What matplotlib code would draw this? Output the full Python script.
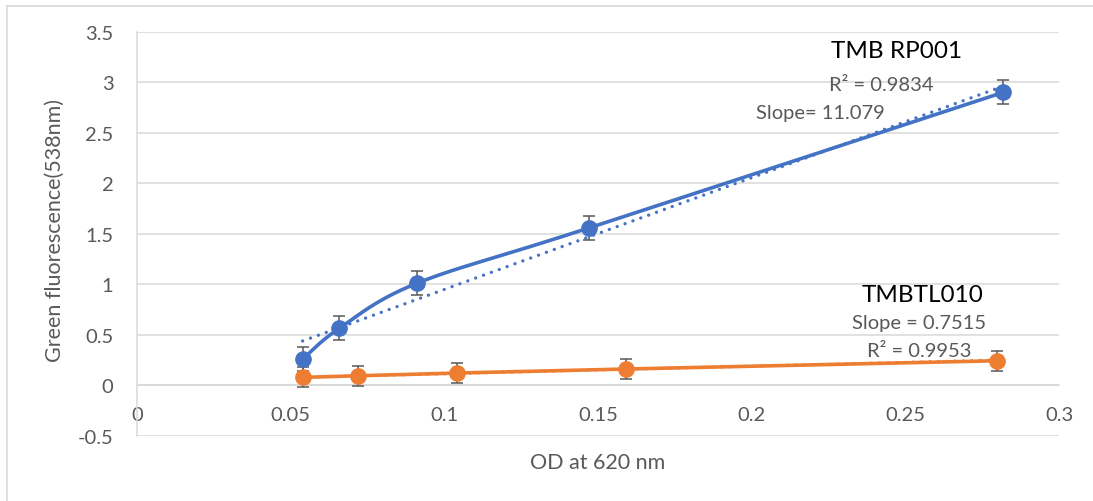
import numpy as np
import matplotlib.pyplot as plt
from matplotlib.lines import Line2D

# Strain TMB RP001
rp001_od = [0.0539, 0.0658, 0.0910, 0.1470, 0.2819]
rp001_fluor = [0.258, 0.562, 1.008, 1.557, 2.902]
rp001_err = [0.12, 0.12, 0.12, 0.12, 0.12]
rp001_slope = 11.079
rp001_r2 = 0.9834

# Strain TMBTL010
tl010_od = [0.0539, 0.0718, 0.1040, 0.1590, 0.2799]
tl010_fluor = [0.076, 0.092, 0.119, 0.159, 0.241]
tl010_err = [0.10, 0.10, 0.10, 0.10, 0.10]
tl010_slope = 0.7515
tl010_r2 = 0.9953

x_ticks = [0, 0.05, 0.1, 0.15, 0.2, 0.25, 0.3]
y_ticks = [-0.5, 0, 0.5, 1, 1.5, 2, 2.5, 3, 3.5]

BLUE = "#4472C4"
ORANGE = "#ED7D31"
GRID = "#D9D9D9"
TEXT = "#595959"
DOTS = (0, (0.01, 2.5))

plt.rcParams["font.family"] = ["Lato", "DejaVu Sans"]


def smooth_curve(xs, ys, n=40):
    """Bezier smoothing through every point, the way spreadsheet 'smoothed lines' look."""
    xs = np.asarray(xs, float)
    ys = np.asarray(ys, float)
    pts = np.column_stack([xs, ys])
    out = []
    t = np.linspace(0, 1, n)[:, None]
    for i in range(len(pts) - 1):
        p0 = pts[i - 1] if i > 0 else pts[i]
        p1 = pts[i]
        p2 = pts[i + 1]
        p3 = pts[i + 2] if i + 2 < len(pts) else pts[i + 1]
        c1 = p1 + (p2 - p0) / 6
        c2 = p2 - (p3 - p1) / 6
        seg = ((1 - t) ** 3 * p1 + 3 * (1 - t) ** 2 * t * c1
               + 3 * (1 - t) * t ** 2 * c2 + t ** 3 * p2)
        out.append(seg if i == 0 else seg[1:])
    seg = np.vstack(out)
    return seg[:, 0], seg[:, 1]


def trend_line(xs, ys, slope):
    xs = np.asarray(xs)
    ys = np.asarray(ys)
    intercept = ys.mean() - slope * xs.mean()
    tx = np.array([xs.min(), xs.max()])
    return tx, intercept + slope * tx


fig = plt.figure(figsize=(10.93, 5.02), dpi=100)
W, H = 1093, 502
ax = fig.add_axes([137 / W, 1 - 436.5 / H, (1059 - 137) / W, (436.5 - 33) / H])

# chart area border (top and left edges)
fig.add_artist(Line2D([7 / W, 1], [1 - 7 / H, 1 - 7 / H], color=GRID, lw=1.2,
                      transform=fig.transFigure))
fig.add_artist(Line2D([7 / W, 7 / W], [0, 1 - 7 / H], color=GRID, lw=1.2,
                      transform=fig.transFigure))

# trendlines
tx, ty = trend_line(rp001_od, rp001_fluor, rp001_slope)
ax.plot(tx, ty, color=BLUE, lw=2.4, linestyle=DOTS, dash_capstyle="round", zorder=2)
tx, ty = trend_line(tl010_od, tl010_fluor, tl010_slope)
ax.plot(tx, ty, color=ORANGE, lw=2.4, linestyle=DOTS, dash_capstyle="round", zorder=2)

# error bars
ax.errorbar(rp001_od, rp001_fluor, yerr=rp001_err, fmt="none", ecolor=TEXT,
            elinewidth=1.1, capsize=4.5, capthick=1.1, zorder=3)
ax.errorbar(tl010_od, tl010_fluor, yerr=tl010_err, fmt="none", ecolor=TEXT,
            elinewidth=1.1, capsize=4.5, capthick=1.1, zorder=3)

# data series
sx, sy = smooth_curve(rp001_od, rp001_fluor)
ax.plot(sx, sy, color=BLUE, lw=2.6, solid_capstyle="round", zorder=4)
ax.plot(rp001_od, rp001_fluor, "o", color=BLUE, markersize=11, zorder=5)
ax.plot(tl010_od, tl010_fluor, color=ORANGE, lw=2.6, solid_capstyle="round", zorder=4)
ax.plot(tl010_od, tl010_fluor, "o", color=ORANGE, markersize=11, zorder=5)

# series labels and fit statistics
ax.text(0.2472, 3.315, "TMB RP001", ha="center", va="center", fontsize=17.5, color="black")
ax.text(0.2423, 2.984, f"R² = {rp001_r2}", ha="center", va="center", fontsize=14.5, color=TEXT)
ax.text(0.2222, 2.704, f"Slope= {rp001_slope}", ha="center", va="center", fontsize=14.5, color=TEXT)
ax.text(0.2557, 0.902, "TMBTL010", ha="center", va="center", fontsize=17.5, color="black")
ax.text(0.2546, 0.622, f"Slope = {tl010_slope}", ha="center", va="center", fontsize=14.5, color=TEXT)
ax.text(0.2546, 0.340, f"R² = {tl010_r2}", ha="center", va="center", fontsize=14.5, color=TEXT)

# axes styling
ax.set_xlim(0, 0.3)
ax.set_ylim(-0.5, 3.5)
ax.set_xticks(x_ticks)
ax.set_xticklabels([f"{v:g}" for v in x_ticks])
ax.set_yticks(y_ticks)
ax.set_yticklabels([f"{v:g}" for v in y_ticks])
ax.tick_params(length=0, labelsize=14.5, labelcolor=TEXT)
ax.tick_params(axis="y", pad=17)
ax.tick_params(axis="x", pad=15)
ax.grid(axis="y", color=GRID, lw=1.1)
ax.set_axisbelow(True)
for side in ["top", "right"]:
    ax.spines[side].set_visible(False)
ax.spines["bottom"].set_position(("data", 0))
ax.spines["bottom"].set_color(GRID)
ax.spines["left"].set_color(GRID)
ax.spines["bottom"].set_linewidth(1.1)
ax.spines["left"].set_linewidth(1.1)

fig.text(55 / W, 1 - 231 / H, "Green fluorescence(538nm)", rotation=90,
         ha="center", va="center", fontsize=15.5, color=TEXT)
fig.text(598 / W, 1 - 463 / H, "OD at 620 nm", ha="center", va="center",
         fontsize=15.5, color=TEXT)

fig.savefig("out.png", dpi=100, facecolor="white")
